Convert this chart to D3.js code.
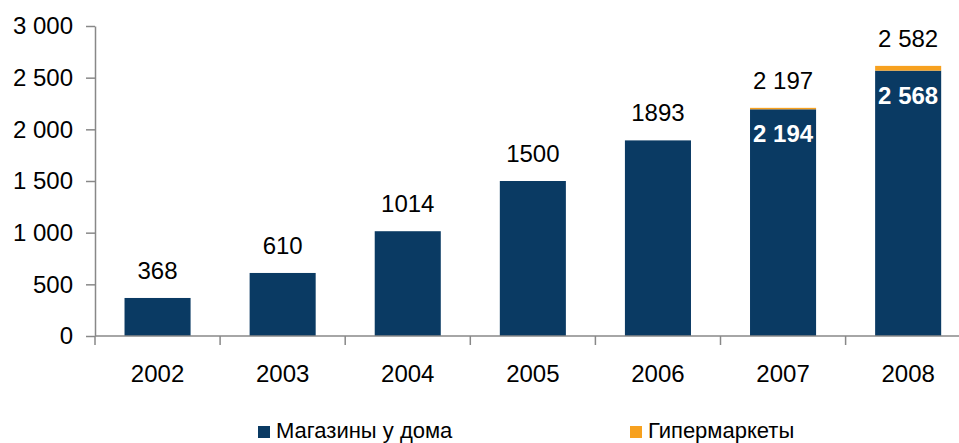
<!DOCTYPE html>
<html>
<head>
<meta charset="utf-8">
<script src="https://cdn.jsdelivr.net/npm/d3@7"></script>
<style>
  body { margin: 0; background: #fff; }
  svg { display: block; font-family: "Liberation Sans", Arial, sans-serif; }
</style>
</head>
<body>
<script>
const years = ["2002", "2003", "2004", "2005", "2006", "2007", "2008"]
const nearHome = [368, 610, 1014, 1500, 1893, 2194, 2568]
const hyper = [0, 0, 0, 0, 0, 14, 46]
const totalLabels = ["368", "610", "1014", "1500", "1893", "2 197", "2 582"]
const innerLabels = [null, null, null, null, null, "2 194", "2 568"]
const yTicks = [0, 500, 1000, 1500, 2000, 2500, 3000]
const seriesNames = ["Магазины у дома", "Гипермаркеты"]
const colors = ["#0a3a63", "#f7a11f"]

const width = 959
const height = 443
const left = 95
const base = 336

const svg = d3.select("body").append("svg")
  .attr("width", width)
  .attr("height", height)

const x = d3.scaleBand()
  .domain(years)
  .range([left, left + 7 * 125.1])
  .paddingInner(0.472)
  .paddingOuter(0.236)

const y = d3.scaleLinear()
  .domain([0, 3000])
  .range([base, 26])

const fmt = d3.formatLocale({ decimal: ",", thousands: " ", grouping: [3], currency: ["", ""] }).format(",d")

// y axis
const yAxis = svg.append("g")
  .attr("transform", `translate(${left},0)`)
  .call(d3.axisLeft(y).tickValues(yTicks).tickFormat(fmt).tickSize(9).tickPadding(13).tickSizeOuter(0))
yAxis.select(".domain").attr("stroke", "#888").attr("stroke-width", 1.5)
yAxis.selectAll(".tick line").attr("stroke", "#888").attr("stroke-width", 1.5)
yAxis.selectAll(".tick text").attr("font-size", 24).attr("fill", "#000")
  .attr("font-family", "'Liberation Sans', Arial, sans-serif")

// stacked bars
const stackData = years.map((yr, i) => ({ year: yr, a: nearHome[i], b: hyper[i] }))
const stack = d3.stack().keys(["a", "b"])(stackData)

svg.append("g")
  .selectAll("g")
  .data(stack)
  .join("g")
  .attr("fill", (d, i) => colors[i])
  .selectAll("rect")
  .data(d => d)
  .join("rect")
  .attr("x", d => x(d.data.year))
  .attr("width", x.bandwidth())
  .attr("y", d => y(d[1]))
  .attr("height", d => y(d[0]) - y(d[1]))

// x axis line + boundary ticks
const half = (x.step() - x.bandwidth()) / 2
const bounds = years.map(yr => x(yr) - half).concat([x(years[years.length - 1]) + x.bandwidth() + half])
svg.append("line")
  .attr("x1", left).attr("x2", width)
  .attr("y1", base).attr("y2", base)
  .attr("stroke", "#888").attr("stroke-width", 1.5)
svg.append("g")
  .selectAll("line")
  .data(bounds)
  .join("line")
  .attr("x1", d => d).attr("x2", d => d)
  .attr("y1", base).attr("y2", base + 9)
  .attr("stroke", "#888").attr("stroke-width", 1.5)

svg.append("g")
  .selectAll("text")
  .data(years)
  .join("text")
  .attr("x", d => x(d) + x.bandwidth() / 2)
  .attr("y", 382)
  .attr("text-anchor", "middle")
  .attr("font-size", 24)
  .text(d => d)

// total labels above bars
svg.append("g")
  .selectAll("text")
  .data(years)
  .join("text")
  .attr("x", d => x(d) + x.bandwidth() / 2)
  .attr("y", (d, i) => y(nearHome[i] + hyper[i]) - 19)
  .attr("text-anchor", "middle")
  .attr("font-size", 24)
  .text((d, i) => totalLabels[i])

// labels inside bars
svg.append("g")
  .selectAll("text")
  .data(years.filter((d, i) => innerLabels[i]))
  .join("text")
  .attr("x", d => x(d) + x.bandwidth() / 2)
  .attr("y", d => y(nearHome[years.indexOf(d)]) + 33)
  .attr("text-anchor", "middle")
  .attr("font-size", 24)
  .attr("font-weight", "bold")
  .attr("fill", "#fff")
  .text(d => innerLabels[years.indexOf(d)])

// legend
const legendX = [258, 630]
const legend = svg.append("g")
  .selectAll("g")
  .data(seriesNames)
  .join("g")
  .attr("transform", (d, i) => `translate(${legendX[i]},0)`)
legend.append("rect")
  .attr("x", 0).attr("y", 426)
  .attr("width", 12).attr("height", 12)
  .attr("fill", (d, i) => colors[i])
legend.append("text")
  .attr("x", 18).attr("y", 438)
  .attr("font-size", 22)
  .text(d => d)
</script>
</body>
</html>
